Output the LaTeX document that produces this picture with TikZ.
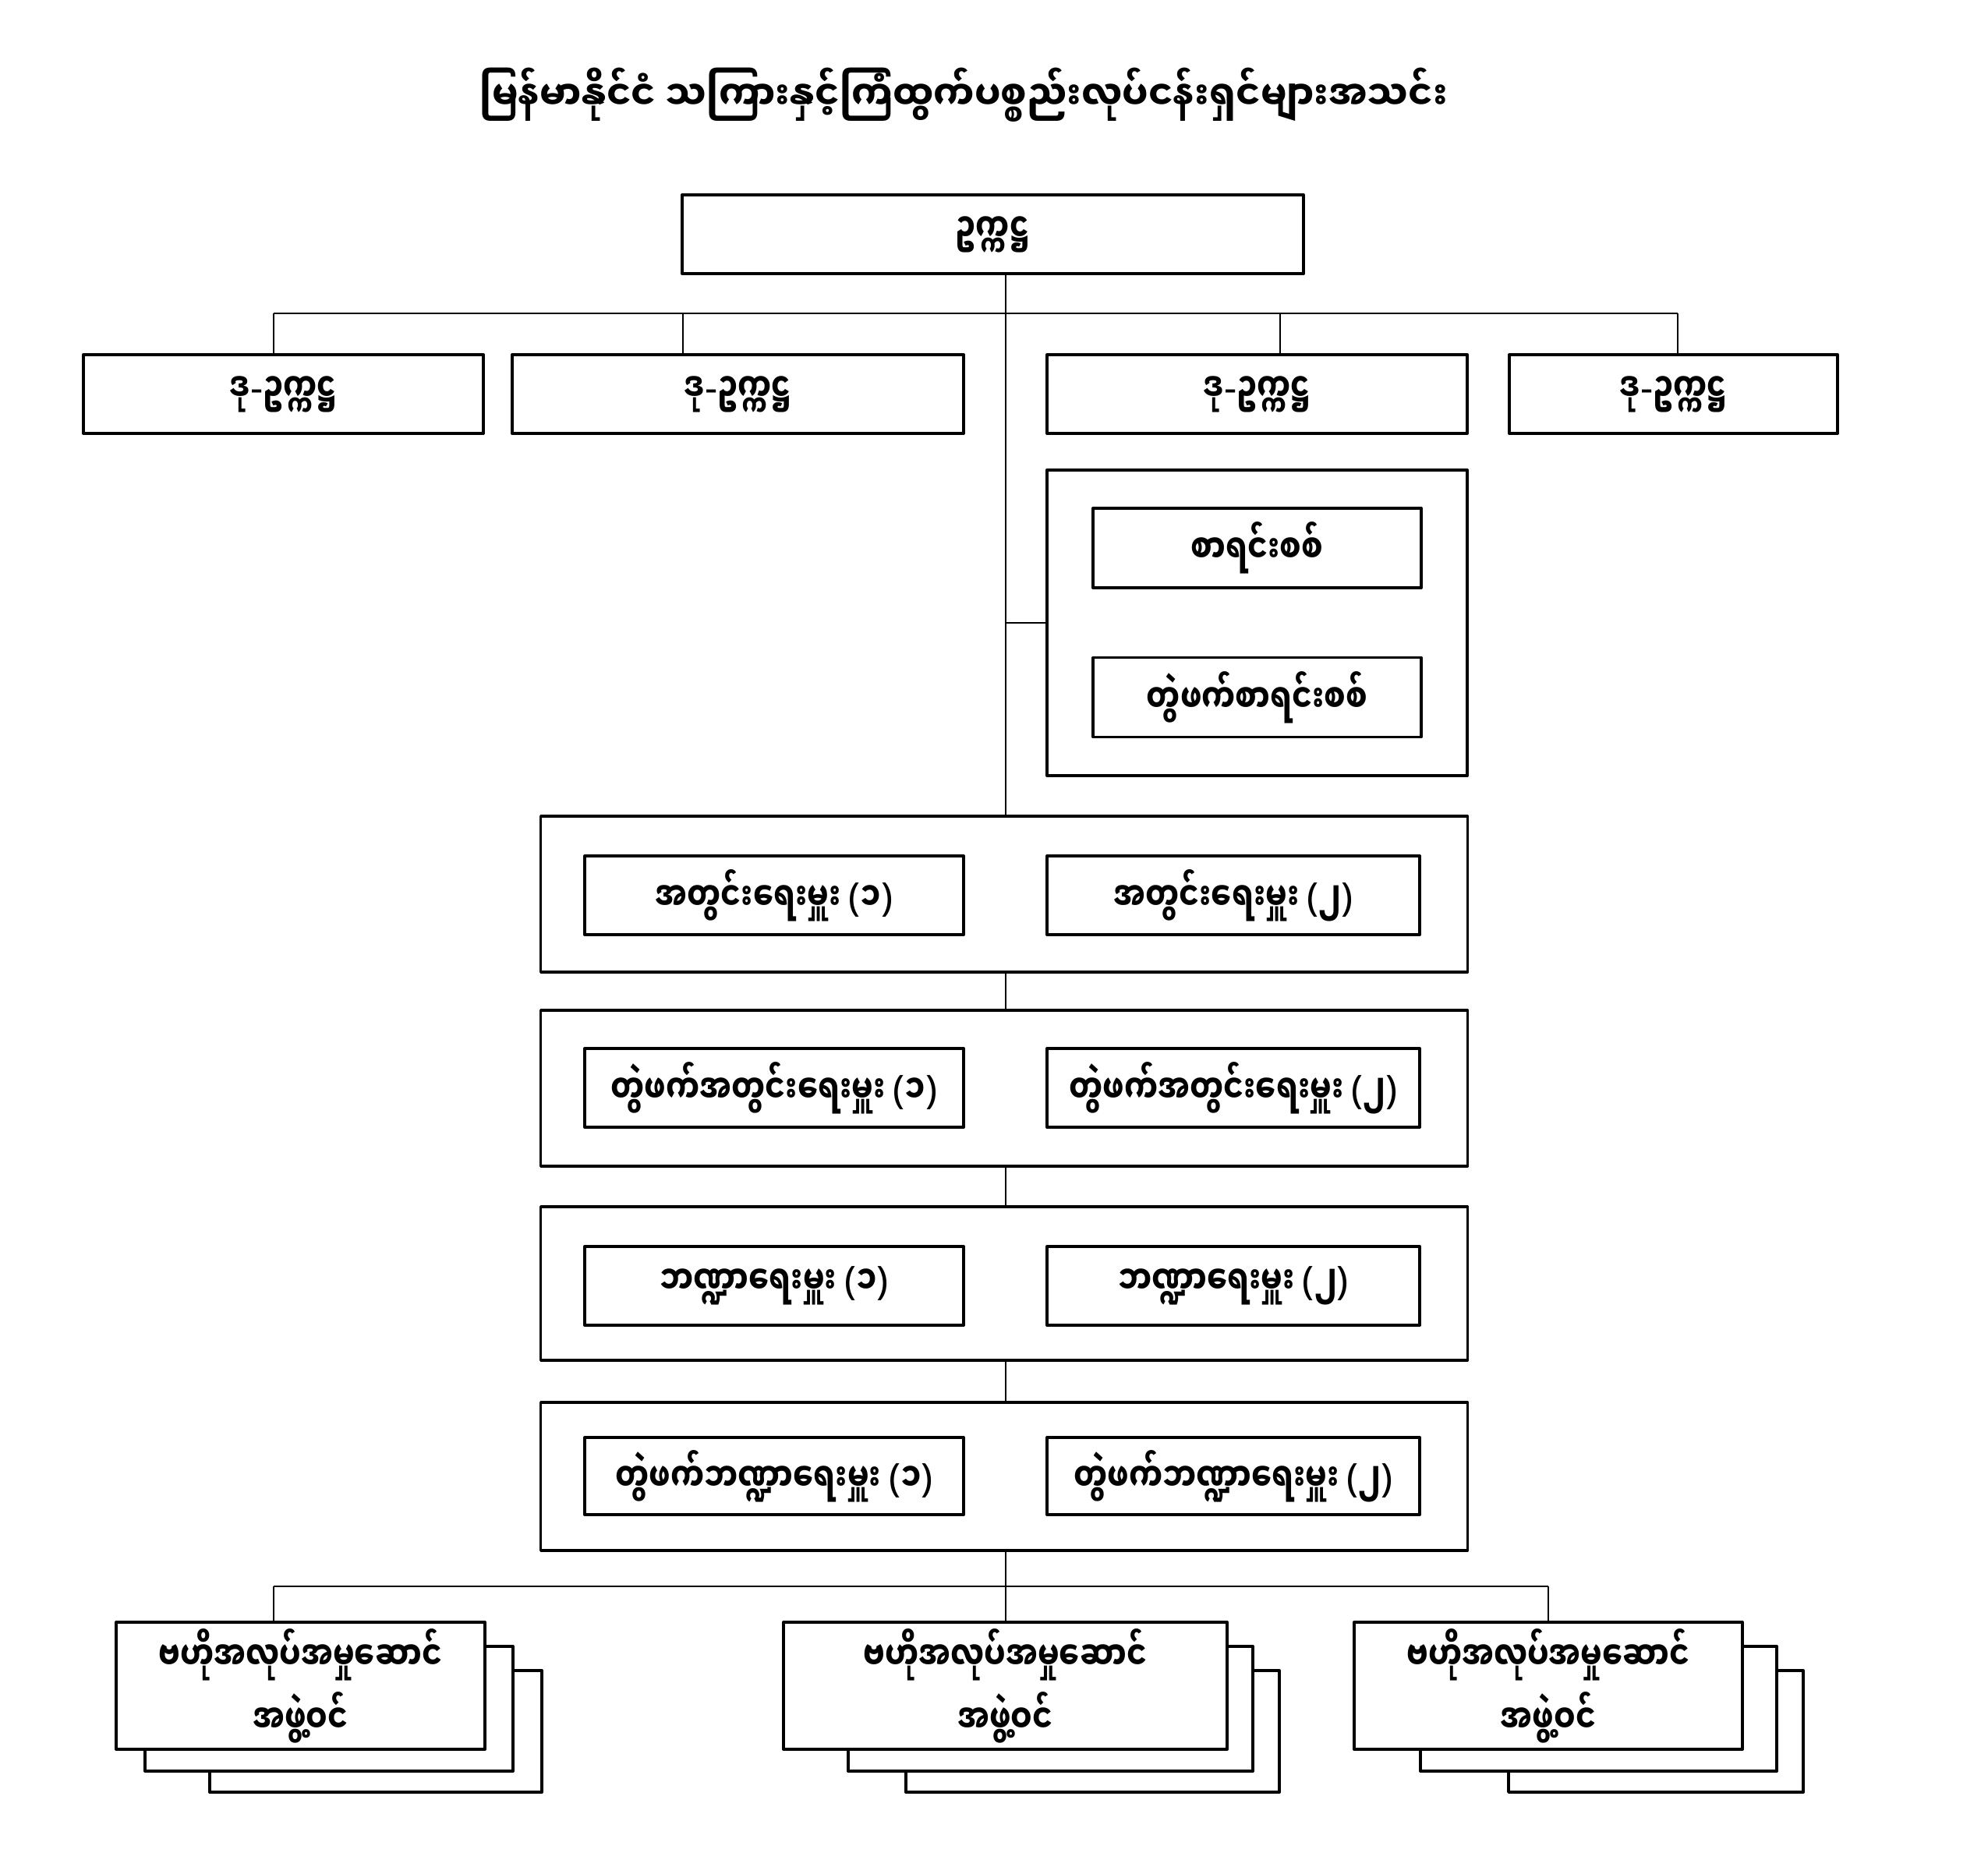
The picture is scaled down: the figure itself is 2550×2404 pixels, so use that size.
\documentclass[tikz,border=0pt]{standalone}
\usepackage{fontspec}
\newfontfamily\mmfont[Script=Myanmar, FakeStretch=0.77]{Noto Sans Myanmar UI}
\newfontfamily\mmtitlefont[Script=Myanmar, FakeStretch=0.91]{Noto Sans Myanmar UI}
\newfontfamily\latinfont{Noto Sans}
\newcommand\mmlp{{\latinfont\mdseries(}}
\newcommand\mmrp{{\latinfont\mdseries)}}
\newcommand\mmhy{{\latinfont\bfseries-}}
\tikzset{
  box/.style={draw, line width=1pt, fill=white, inner sep=0pt, align=center,
    font=\mmfont\bfseries\fontsize{14.3pt}{23pt}\selectfont},
  frame/.style={draw, line width=1pt, inner sep=0pt},
  link/.style={line width=0.75pt},
}
\begin{document}
\begin{tikzpicture}[x=0.01cm, y=-0.01cm, line join=round]
\useasboundingbox (0,0) rectangle (2550,2404);
% title
\node[font=\mmtitlefont\bfseries\fontsize{14.7pt}{18pt}\selectfont] (title) at (1236,122)
  {မြန်မာနိုင်ငံ သကြားနှင့်ကြံထွက်ပစ္စည်းလုပ်ငန်းရှင်များအသင်း};
% chairman and vice chairmen
\node[box, minimum width=7.97cm, minimum height=1.01cm] (chair) at (1273.5,300.5) {ဥက္ကဋ္ဌ};
\node[box, minimum width=5.13cm, minimum height=1.01cm] (vice1) at (363.5,505.5) {ဒု\mmhy ဥက္ကဋ္ဌ};
\node[box, minimum width=5.79cm, minimum height=1.01cm] (vice2) at (946.5,505.5) {ဒု\mmhy ဥက္ကဋ္ဌ};
\node[box, minimum width=5.39cm, minimum height=1.01cm] (vice3) at (1612.5,505.5) {ဒု\mmhy ဥက္ကဋ္ဌ};
\node[box, minimum width=4.21cm, minimum height=1.01cm] (vice4) at (2146.5,505.5) {ဒု\mmhy ဥက္ကဋ္ဌ};
\coordinate (top) at (1290,402);
\coordinate (t1) at (351,402);
\coordinate (t2) at (876,402);
\coordinate (t3) at (1642,402);
\coordinate (t4) at (2152,402);
% auditors
\node[frame, minimum width=5.39cm, minimum height=3.92cm] (audit) at (1612.5,799) {};
\node[box, minimum width=4.21cm, minimum height=1.02cm] (aud1) at (1612.5,703) {စာရင်းစစ်};
\node[box, minimum width=4.21cm, minimum height=1.02cm] (aud2) at (1612.5,894.5) {တွဲဖက်စာရင်းစစ်};
% secretaries and treasurers
\node[frame, minimum width=11.88cm, minimum height=2.00cm] (sec) at (1288,1147) {};
\node[box, minimum width=4.86cm, minimum height=1.01cm] (sec1) at (993,1148.5) {အတွင်းရေးမှူး \mmlp ၁\mmrp};
\node[box, minimum width=4.78cm, minimum height=1.01cm] (sec2) at (1582,1148.5) {အတွင်းရေးမှူး \mmlp ၂\mmrp};
\node[frame, minimum width=11.88cm, minimum height=2.00cm] (jsec) at (1288,1396) {};
\node[box, minimum width=4.86cm, minimum height=1.01cm] (jsec1) at (993,1395.5) {တွဲဖက်အတွင်းရေးမှူး \mmlp ၁\mmrp};
\node[box, minimum width=4.78cm, minimum height=1.01cm] (jsec2) at (1582,1395.5) {တွဲဖက်အတွင်းရေးမှူး \mmlp ၂\mmrp};
\node[frame, minimum width=11.88cm, minimum height=1.97cm] (tre) at (1288,1646.5) {};
\node[box, minimum width=4.86cm, minimum height=1.01cm] (tre1) at (993,1649.5) {ဘဏ္ဍာရေးမှူး \mmlp ၁\mmrp};
\node[box, minimum width=4.78cm, minimum height=1.01cm] (tre2) at (1582,1649.5) {ဘဏ္ဍာရေးမှူး \mmlp ၂\mmrp};
\node[frame, minimum width=11.88cm, minimum height=1.90cm] (jtre) at (1288,1894) {};
\node[box, minimum width=4.86cm, minimum height=0.99cm] (jtre1) at (993,1893.5) {တွဲဖက်ဘဏ္ဍာရေးမှူး \mmlp ၁\mmrp};
\node[box, minimum width=4.78cm, minimum height=0.99cm] (jtre2) at (1582,1893.5) {တွဲဖက်ဘဏ္ဍာရေးမှူး \mmlp ၂\mmrp};
% executive committee members
\node[box, minimum width=4.26cm, minimum height=1.56cm] (mem1c) at (482,2221) {};
\node[box, minimum width=4.72cm, minimum height=1.60cm] (mem1b) at (422,2192) {};
\node[box, minimum width=4.73cm, minimum height=1.63cm] (mem1) at (385.5,2162.5) {ဗဟိုအလုပ်အမှုဆောင်\\အဖွဲ့ဝင်};
\node[box, minimum width=4.79cm, minimum height=1.56cm] (mem2c) at (1401.5,2221) {};
\node[box, minimum width=5.19cm, minimum height=1.60cm] (mem2b) at (1347.5,2192) {};
\node[box, minimum width=5.69cm, minimum height=1.63cm] (mem2) at (1289.5,2162.5) {ဗဟိုအလုပ်အမှုဆောင်\\အဖွဲ့ဝင်};
\node[box, minimum width=3.78cm, minimum height=1.56cm] (mem3c) at (2124,2221) {};
\node[box, minimum width=4.57cm, minimum height=1.60cm] (mem3b) at (2050.5,2192) {};
\node[box, minimum width=4.98cm, minimum height=1.63cm] (mem3) at (1986,2162.5) {ဗဟိုအလုပ်အမှုဆောင်\\အဖွဲ့ဝင်};
\coordinate (b0) at (1290,2035);
\coordinate (b1) at (351,2035);
\coordinate (b3) at (1986,2035);
% connectors
\draw[link] (chair.south -| top) -- (sec.north -| top);
\draw[link] (t1) -- (t4);
\foreach \i in {1,...,4}
  \draw[link] (t\i) -- (t\i |- vice\i.north);
\draw[link] (audit.west -| top) -- (audit.west);
\draw[link] (sec.south -| top) -- (jsec.north -| top);
\draw[link] (jsec.south -| top) -- (tre.north -| top);
\draw[link] (tre.south -| top) -- (jtre.north -| top);
\draw[link] (jtre.south -| b0) -- (b0);
\draw[link] (b1) -- (b3);
\draw[link] (b1) -- (b1 |- mem1.north);
\draw[link] (b0) -- (b0 |- mem2.north);
\draw[link] (b3) -- (b3 |- mem3.north);
\end{tikzpicture}
\end{document}
